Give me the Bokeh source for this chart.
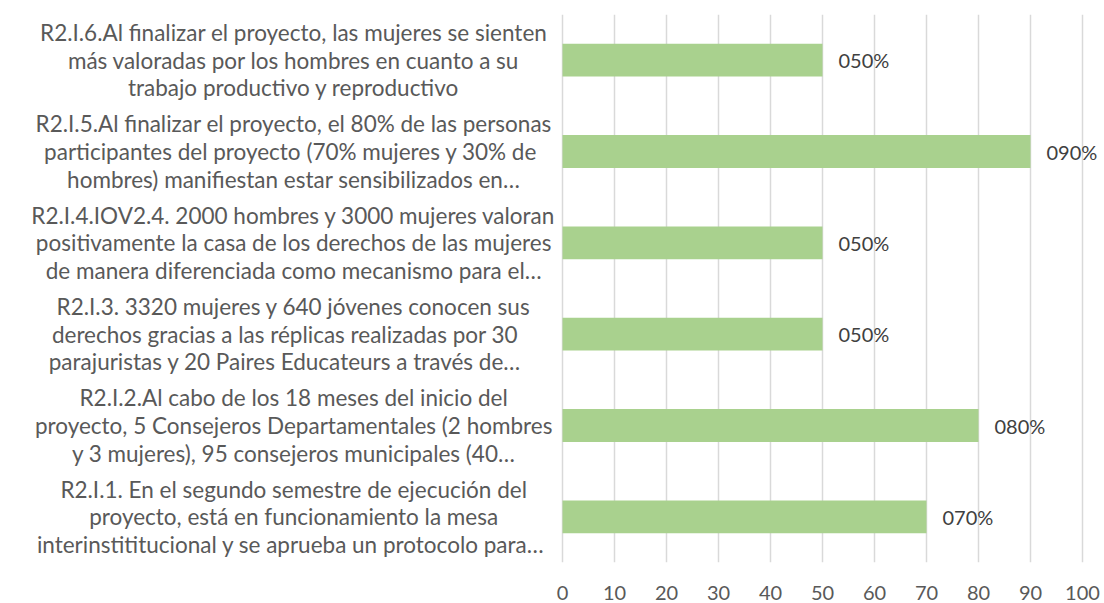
from bokeh.plotting import figure
from bokeh.models import ColumnDataSource, FactorRange, FixedTicker, Range1d
from bokeh.embed import file_html
from bokeh.resources import INLINE
from bokeh.core.properties import value

ids = ["R2.I.6", "R2.I.5", "R2.I.4", "R2.I.3", "R2.I.2", "R2.I.1"]
labels = [
    "R2.I.6.Al finalizar el proyecto, las mujeres se sienten\nmás valoradas por los hombres en cuanto a su\ntrabajo productivo y reproductivo",
    "R2.I.5.Al finalizar el proyecto, el 80% de las personas\nparticipantes del proyecto (70% mujeres  y 30% de\nhombres) manifiestan estar sensibilizados en…",
    "R2.I.4.IOV2.4. 2000 hombres y 3000 mujeres valoran\npositivamente la casa de los derechos de las mujeres\nde manera diferenciada como mecanismo para el…",
    "R2.I.3. 3320 mujeres y 640 jóvenes conocen sus\nderechos gracias a las  réplicas realizadas  por  30\nparajuristas  y 20 Paires Educateurs   a través de…",
    "R2.I.2.Al cabo de los 18 meses del inicio del\nproyecto, 5 Consejeros Departamentales (2 hombres\ny 3 mujeres), 95 consejeros municipales (40…",
    "R2.I.1. En el segundo semestre de ejecución del\nproyecto, está en funcionamiento la mesa\ninterinstititucional  y se aprueba un protocolo para…",
]
values = [50, 90, 50, 50, 80, 70]
value_labels = ["050%", "090%", "050%", "050%", "080%", "070%"]
ticks = [0, 10, 20, 30, 40, 50, 60, 70, 80, 90, 100]

LABEL_X = -51.7

src = ColumnDataSource(dict(
    id=ids, label=labels, value=values, vlabel=value_labels,
    lx=[LABEL_X] * len(ids),
))

p = figure(
    width=1104, height=603,
    y_range=FactorRange(*reversed(ids), range_padding=0),
    x_range=Range1d(-108.08, 104.23),
    y_axis_location=None,
    min_border_left=0, min_border_right=0,
    min_border_top=14, min_border_bottom=41,
    output_backend="svg", toolbar_location=None,
    background_fill_color="white", border_fill_color="white",
)
p.outline_line_color = None

p.hbar(y="id", left=0, right="value", height=0.36, source=src,
       fill_color="#A9D18E", line_color=None)

p.text(x="value", y="id", text="vlabel", source=src, x_offset=16,
       text_align="left", text_baseline="middle",
       text_font=value("Lato"), text_font_size="20px", text_color="#404040")

p.text(x="lx", y="id", text="label", source=src,
       text_align="center", text_baseline="middle", text_line_height=1.02,
       text_font=value("Lato"), text_font_size="22.5px", text_color="#595959")

tk = FixedTicker(ticks=ticks)
p.xaxis.ticker = tk
p.xgrid.ticker = tk
p.xgrid.grid_line_color = "#D9D9D9"
p.xgrid.grid_line_width = 1.5
p.ygrid.visible = False
p.xaxis.axis_line_color = None
p.xaxis.major_tick_line_color = None
p.xaxis.minor_tick_line_color = None
p.xaxis.major_label_standoff = 17
p.xaxis.major_label_text_font = "Lato"
p.xaxis.major_label_text_font_size = "20px"
p.xaxis.major_label_text_color = "#595959"

open("out.html", "w").write(file_html(p, INLINE))
